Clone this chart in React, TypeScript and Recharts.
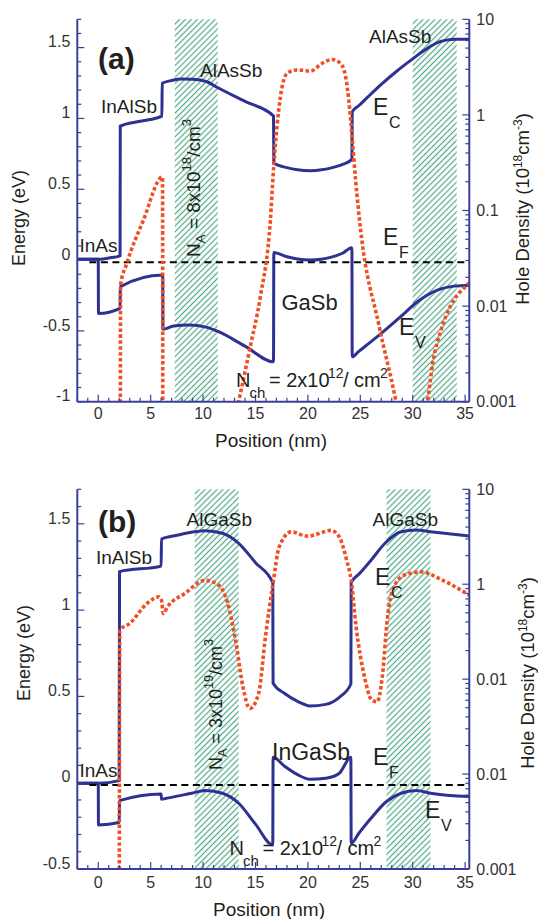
import React from "react";
import { ComposedChart, Line, XAxis, YAxis, ReferenceArea } from "recharts";

const W = 538;
const BAND = "#2e3192";
const FRAME = "#3b3f9c";
const HOLE = "#f04e23";
const HATCH = "#4fa985";
const INK = "#231f20";
const TICK_INK = "#333333";
const FONT = "'Liberation Sans', Arial, Helvetica, sans-serif";

// x axis (position, nm)
const X_DOMAIN: [number, number] = [-2, 35.4];
const xMajors = [0, 5, 10, 15, 20, 25, 30, 35];

// left axis (energy, eV)
const eMajorsA = [-1, -0.5, 0, 0.5, 1, 1.5];
const eLabelsA = ["-1", "-0.5", "0", "0.5", "1", "1.5"];
const eMajorsB = [-0.5, 0, 0.5, 1, 1.5];
const eLabelsB = ["-0.5", "0", "0.5", "1", "1.5"];

// right axis (hole density, 1e18 cm^-3)
const pMajors = [0.001, 0.01, 0.1, 1, 10];
const pLabelsA = ["0.001", "0.01", "0.1", "1", "10"];
const pLabelsB = ["0.001", "0.01", "0.01", "1", "10"];

// ---- panel (a) ----
const ecA = [
  [-2, 0.005], [0, 0.005], [1.0, 0.015], [2.08, 0.03],
  [2.1, 0.946], [4.0, 0.98], [6.07, 1.017],
  [6.1, 1.248], [7.0, 1.268], [8.0, 1.278], [9.0, 1.276], [10.37, 1.259], [11.33, 1.22], [14.0, 1.12], [16.72, 1.017],
  [16.75, 0.683], [18.0, 0.653], [19.0, 0.638], [20.25, 0.631], [21.3, 0.637], [22.16, 0.649], [23.3, 0.675], [24.2, 0.711],
  [24.23, 1.047], [24.9, 1.093], [25.7, 1.15], [27.0, 1.24], [28.5, 1.335], [29.9, 1.415], [31.3, 1.49], [32.36, 1.535],
  [33.2, 1.553], [34.1, 1.559], [35.4, 1.559],
];
const evA = [
  [-2, 0.005], [0, 0.005],
  [0.02, -0.377], [2.08, -0.341],
  [2.1, -0.188], [6.15, -0.106],
  [6.17, -0.489], [7.18, -0.466], [8.6, -0.459], [10.37, -0.475], [11.48, -0.506], [14.0, -0.608], [16.72, -0.718],
  [16.75, 0.054], [18.0, 0.023], [19.0, 0.007], [20.25, 0.0], [21.3, 0.006], [22.16, 0.019], [23.3, 0.048], [24.2, 0.087],
  [24.23, -0.683], [24.8, -0.648], [25.5, -0.607], [27.0, -0.518], [28.85, -0.4], [30.45, -0.294], [32.36, -0.212],
  [33.95, -0.184], [35.4, -0.177],
];
const efA = [[-0.85, -0.016], [35.4, -0.016]];
const holesA1 = [[2.1, 0.0001], [2.13, 0.0166], [2.7, 0.0275], [4.3, 0.079], [6.13, 0.224], [6.16, 0.0001]];
const holesA2 = [
  [13.0, 0.00063], [14.51, 0.0038], [15.47, 0.0126], [16.42, 0.079], [16.74, 0.288], [17.38, 1.55], [18.02, 2.72],
  [18.98, 2.95], [20.25, 2.88], [21.37, 3.47], [22.32, 3.8], [23.1, 3.47], [23.6, 2.51], [23.9, 1.43], [24.24, 0.55],
  [24.55, 0.209], [25.03, 0.063], [26.78, 0.0063], [28.37, 0.00105], [28.8, 0.0006],
];
const holesA3 = [[31.0, 0.0006], [31.4, 0.001], [31.9, 0.0025], [32.7, 0.0056], [33.6, 0.01], [34.9, 0.0155], [35.4, 0.0174]];
const dopingA = [[7.3, 11.4], [30.0, 34.2]];

// ---- panel (b) ----
const ecB = [
  [-2, -0.003], [0, -0.003], [2.0, 0.012],
  [2.03, 1.223], [6.0, 1.255],
  [6.03, 1.412], [7.6, 1.435], [9.0, 1.452], [10.2, 1.46], [11.85, 1.445], [13.4, 1.387], [15.0, 1.275], [16.65, 1.159],
  [16.68, 0.576], [17.75, 0.518], [19.06, 0.47], [20.2, 0.445], [21.7, 0.454], [23.0, 0.495], [24.1, 0.572],
  [24.13, 1.159], [24.9, 1.21], [25.9, 1.28], [27.5, 1.396], [28.9, 1.454], [30.35, 1.464], [31.7, 1.454], [35.4, 1.429],
];
const evB = [
  [-2, -0.003], [0, -0.003],
  [0.02, -0.245], [2.0, -0.231],
  [2.03, -0.104], [6.0, -0.065],
  [6.03, -0.096], [6.4, -0.092], [8.9, -0.061], [10.2, -0.045], [11.85, -0.061], [13.4, -0.119], [15.0, -0.24], [16.65, -0.36],
  [16.68, 0.147], [17.75, 0.097], [19.06, 0.045], [20.2, 0.02], [21.7, 0.026], [23.0, 0.055], [24.1, 0.147],
  [24.13, -0.35], [24.9, -0.29], [25.9, -0.215], [27.5, -0.109], [28.9, -0.061], [30.35, -0.045], [31.7, -0.061], [35.4, -0.08],
];
const efB = [[-0.85, -0.013], [35.4, -0.013]];
const holesB1 = [
  [2.0, 0.0001], [2.05, 0.328], [3.0, 0.385], [4.65, 0.627], [5.8, 0.736], [6.03, 0.679], [6.2, 0.491], [6.6, 0.577],
  [8.25, 0.798], [10.2, 1.1], [11.5, 0.975], [12.35, 0.627], [13.2, 0.219], [13.8, 0.083], [14.47, 0.049], [15.3, 0.0706],
  [15.95, 0.279], [16.67, 1.016], [17.26, 2.47], [18.4, 3.56], [20.0, 3.2], [21.0, 3.41], [22.2, 3.7], [23.0, 3.15],
  [23.7, 1.79], [24.13, 1.1], [24.6, 0.356], [25.4, 0.106], [26.1, 0.06], [26.6, 0.0577], [27.1, 0.106], [27.6, 0.453],
  [28.2, 0.938], [29.2, 1.245], [30.85, 1.35], [32.5, 1.15], [35.4, 0.766],
];
const dopingB = [[9.2, 13.4], [27.5, 31.7]];

const toE = (rows: number[][]) => rows.map(([x, e]) => ({ x, e }));
const toP = (rows: number[][]) => rows.map(([x, p]) => ({ x, p }));

const near = (a: number, b: number) => Math.abs(a - b) < 1e-6;

const xTicks: number[] = [];
for (let i = -2; i <= 35; i++) xTicks.push(i);

const pTicks: number[] = [];
[0.001, 0.01, 0.1, 1].forEach((d) => {
  for (let k = 1; k <= 9; k++) pTicks.push(+(k * d).toPrecision(3));
});
pTicks.push(10);

const eTicksFor = (lo: number, hi: number) => {
  const t: number[] = [];
  for (let i = Math.round(lo * 10); i <= Math.round(hi * 10); i++) t.push(i / 10);
  return t;
};

const labelStyle = { fontSize: 16, fill: TICK_INK, fontFamily: FONT };

const makeLeftTick = (majors: number[], labels: string[]) => (props: any) => {
  const { x, y, payload } = props;
  const idx = majors.findIndex((m) => near(m, payload.value));
  return (
    <g>
      <line x1={x} x2={x + (idx >= 0 ? 7 : 4)} y1={y} y2={y} stroke={FRAME} strokeWidth={1.2} />
      {idx >= 0 && (
        <text x={x - 7} y={y - 6} dy="0.36em" textAnchor="end" {...labelStyle}>
          {labels[idx]}
        </text>
      )}
    </g>
  );
};

const makeRightTick = (labels: string[]) => (props: any) => {
  const { x, y, payload } = props;
  const idx = pMajors.findIndex((m) => near(m, payload.value));
  return (
    <g>
      <line x1={x} x2={x - (idx >= 0 ? 7 : 4)} y1={y} y2={y} stroke={FRAME} strokeWidth={1.2} />
      {idx >= 0 && (
        <text x={x + 7} y={y} dy="0.36em" textAnchor="start" {...labelStyle}>
          {labels[idx]}
        </text>
      )}
    </g>
  );
};

const makeBottomTick = (labelDy: number) => (props: any) => {
  const { x, y, payload } = props;
  const major = xMajors.includes(payload.value);
  return (
    <g>
      <line x1={x} x2={x} y1={y} y2={y - (major ? 7 : 4)} stroke={FRAME} strokeWidth={1.2} />
      {major && (
        <text x={x} y={y + labelDy} textAnchor="middle" {...labelStyle}>
          {payload.value}
        </text>
      )}
    </g>
  );
};

const TopTick = (props: any) => {
  const { x, y, payload } = props;
  const major = xMajors.includes(payload.value);
  return <line x1={x} x2={x} y1={y} y2={y + (major ? 7 : 4)} stroke={FRAME} strokeWidth={1.2} />;
};

interface PanelProps {
  top: number;
  height: number;
  marginTop: number;
  axisHeight: number;
  labelDy: number;
  eDomain: [number, number];
  eMajors: number[];
  eLabels: string[];
  pLabels: string[];
  ec: number[][];
  ev: number[][];
  ef: number[][];
  holes: number[][][];
  doping: number[][];
}

const Panel = ({ top, height, marginTop, axisHeight, labelDy, eDomain, eMajors, eLabels, pLabels, ec, ev, ef, holes, doping }: PanelProps) => {
  const frame = { stroke: FRAME, strokeWidth: 2 };
  return (
    <div style={{ position: "absolute", left: 0, top }}>
      <ComposedChart width={W} height={height} margin={{ top: marginTop, right: 0, bottom: 0, left: 0 }}>
        {doping.map(([a, b]) => (
          <ReferenceArea key={a} xAxisId="x" yAxisId="e" x1={a} x2={b} fill="url(#hatch)" fillOpacity={1} stroke="none" />
        ))}
        <XAxis
          xAxisId="x"
          type="number"
          dataKey="x"
          domain={X_DOMAIN}
          allowDataOverflow
          ticks={xTicks}
          interval={0}
          height={axisHeight}
          tickSize={0}
          tickMargin={0}
          tickLine={false}
          axisLine={frame}
          tick={makeBottomTick(labelDy)}
        />
        <XAxis
          xAxisId="top"
          orientation="top"
          type="number"
          dataKey="x"
          domain={X_DOMAIN}
          allowDataOverflow
          ticks={xTicks}
          interval={0}
          height={0}
          tickSize={0}
          tickMargin={0}
          tickLine={false}
          axisLine={frame}
          tick={TopTick}
        />
        <YAxis
          yAxisId="e"
          type="number"
          domain={eDomain}
          allowDataOverflow
          ticks={eTicksFor(eDomain[0], eDomain[1])}
          interval={0}
          width={77.3}
          tickSize={0}
          tickMargin={0}
          tickLine={false}
          axisLine={frame}
          tick={makeLeftTick(eMajors, eLabels)}
        />
        <YAxis
          yAxisId="p"
          orientation="right"
          type="number"
          scale="log"
          domain={[0.001, 10]}
          allowDataOverflow
          ticks={pTicks}
          interval={0}
          width={W - 469.3}
          tickSize={0}
          tickMargin={0}
          tickLine={false}
          axisLine={frame}
          tick={makeRightTick(pLabels)}
        />
        <Line xAxisId="x" yAxisId="e" data={toE(ec)} dataKey="e" type="monotone" stroke={BAND} strokeWidth={3} dot={false} isAnimationActive={false} />
        <Line xAxisId="x" yAxisId="e" data={toE(ev)} dataKey="e" type="monotone" stroke={BAND} strokeWidth={3} dot={false} isAnimationActive={false} />
        <Line xAxisId="x" yAxisId="e" data={toE(ef)} dataKey="e" type="linear" stroke="#000" strokeWidth={2} strokeDasharray="7 4.5" dot={false} isAnimationActive={false} />
        {holes.map((seg, i) => (
          <Line
            key={i}
            xAxisId="x"
            yAxisId="p"
            data={toP(seg)}
            dataKey="p"
            type="monotone"
            stroke={HOLE}
            strokeWidth={3.6}
            strokeDasharray="3.5 2.4"
            dot={false}
            isAnimationActive={false}
          />
        ))}
      </ComposedChart>
    </div>
  );
};

const txt = { fill: INK, fontFamily: FONT };

const Band = ({ x, y, sub }: { x: number; y: number; sub: string }) => (
  <g {...txt}>
    <text x={x} y={y} fontSize={23}>E</text>
    <text x={x + 16} y={y + 13} fontSize={16}>{sub}</text>
  </g>
);

const Nch = ({ x, y }: { x: number; y: number }) => (
  <g {...txt}>
    <text x={x} y={y} fontSize={20}>N</text>
    <text x={x + 13.5} y={y + 11} fontSize={15}>ch</text>
    <text x={x + 33} y={y} fontSize={20}>= 2x10</text>
    <text x={x + 92} y={y - 9} fontSize={14}>12</text>
    <text x={x + 107} y={y} fontSize={20}>/ cm</text>
    <text x={x + 144} y={y - 9} fontSize={14}>2</text>
  </g>
);

const Doping = ({ x, y, size, value, exp }: { x: number; y: number; size: number; value: string; exp: string }) => (
  <text transform={`translate(${x},${y}) rotate(-90)`} fontSize={size} {...txt}>
    <tspan>N</tspan>
    <tspan fontSize={size * 0.7} dy={5}>A</tspan>
    <tspan dy={-5}>{` = ${value}x10`}</tspan>
    <tspan fontSize={size * 0.7} dy={-9}>{exp}</tspan>
    <tspan dy={9}>/cm</tspan>
    <tspan fontSize={size * 0.7} dy={-9}>3</tspan>
  </text>
);

const AxisTitles = ({ ex, ey, hx, hy, px, py }: any) => (
  <g {...txt}>
    <text transform={`translate(${ex},${ey}) rotate(-90)`} textAnchor="middle" fontSize={18}>Energy (eV)</text>
    <text transform={`translate(${hx},${hy}) rotate(-90)`} textAnchor="middle" fontSize={18.5}>
      Hole Density (10<tspan fontSize={12} dy={-7}>18</tspan>
      <tspan dy={7}>cm</tspan>
      <tspan fontSize={12} dy={-7}>-3</tspan>
      <tspan dy={7}>)</tspan>
    </text>
    <text x={px} y={py} textAnchor="middle" fontSize={19}>Position (nm)</text>
  </g>
);

export default function App() {
  return (
    <div style={{ position: "absolute", left: 0, top: 0, width: W, height: 919, background: "#fff", overflow: "hidden" }}>
      <svg width={0} height={0} style={{ position: "absolute" }}>
        <defs>
          <pattern id="hatch" patternUnits="userSpaceOnUse" width={4.2} height={4.2} patternTransform="rotate(45)">
            <line x1={2.1} y1={0} x2={2.1} y2={4.2} stroke={HATCH} strokeWidth={1.2} />
          </pattern>
        </defs>
      </svg>

      <Panel
        top={0}
        height={460}
        marginTop={19.3}
        axisHeight={460 - 401.7}
        labelDy={17}
        eDomain={[-1, 1.7]}
        eMajors={eMajorsA}
        eLabels={eLabelsA}
        pLabels={pLabelsA}
        ec={ecA}
        ev={evA}
        ef={efA}
        holes={[holesA1, holesA2, holesA3]}
        doping={dopingA}
      />
      <Panel
        top={460}
        height={459}
        marginTop={29.3}
        axisHeight={50}
        labelDy={19}
        eDomain={[-0.5, 1.7]}
        eMajors={eMajorsB}
        eLabels={eLabelsB}
        pLabels={pLabelsB}
        ec={ecB}
        ev={evB}
        ef={efB}
        holes={[holesB1]}
        doping={dopingB}
      />

      <svg width={W} height={919} style={{ position: "absolute", left: 0, top: 0, pointerEvents: "none" }}>
        {/* panel (a) annotations */}
        <g {...txt}>
          <text x={98} y={69} fontSize={30} fontWeight="bold">(a)</text>
          <text x={101} y={113} fontSize={19}>InAlSb</text>
          <text x={200} y={77} fontSize={19}>AlAsSb</text>
          <text x={369} y={43} fontSize={19}>AlAsSb</text>
          <text x={79.5} y={252} fontSize={19}>InAs</text>
          <text x={281.5} y={310} fontSize={22}>GaSb</text>
        </g>
        <Band x={373} y={115} sub="C" />
        <Band x={383} y={245} sub="F" />
        <Band x={399} y={335} sub="V" />
        <Nch x={236} y={387} />
        <Doping x={200} y={257} size={19} value="8" exp="18" />
        <AxisTitles ex={25} ey={218} hx={529} hy={209} px={271} py={447} />

        {/* panel (b) annotations */}
        <g {...txt}>
          <text x={98} y={532} fontSize={30} fontWeight="bold">(b)</text>
          <text x={96} y={564} fontSize={19}>InAlSb</text>
          <text x={186.6} y={526} fontSize={19}>AlGaSb</text>
          <text x={372.6} y={526} fontSize={19}>AlGaSb</text>
          <text x={79.5} y={777} fontSize={19}>InAs</text>
          <text x={272} y={760} fontSize={23}>InGaSb</text>
        </g>
        <Band x={375} y={585} sub="C" />
        <Band x={373} y={765} sub="F" />
        <Band x={425} y={818} sub="V" />
        <Nch x={229.5} y={855} />
        <Doping x={222} y={770} size={18} value="3" exp="19" />
        <AxisTitles ex={30} ey={653} hx={534} hy={673} px={269} py={916} />
      </svg>
    </div>
  );
}
